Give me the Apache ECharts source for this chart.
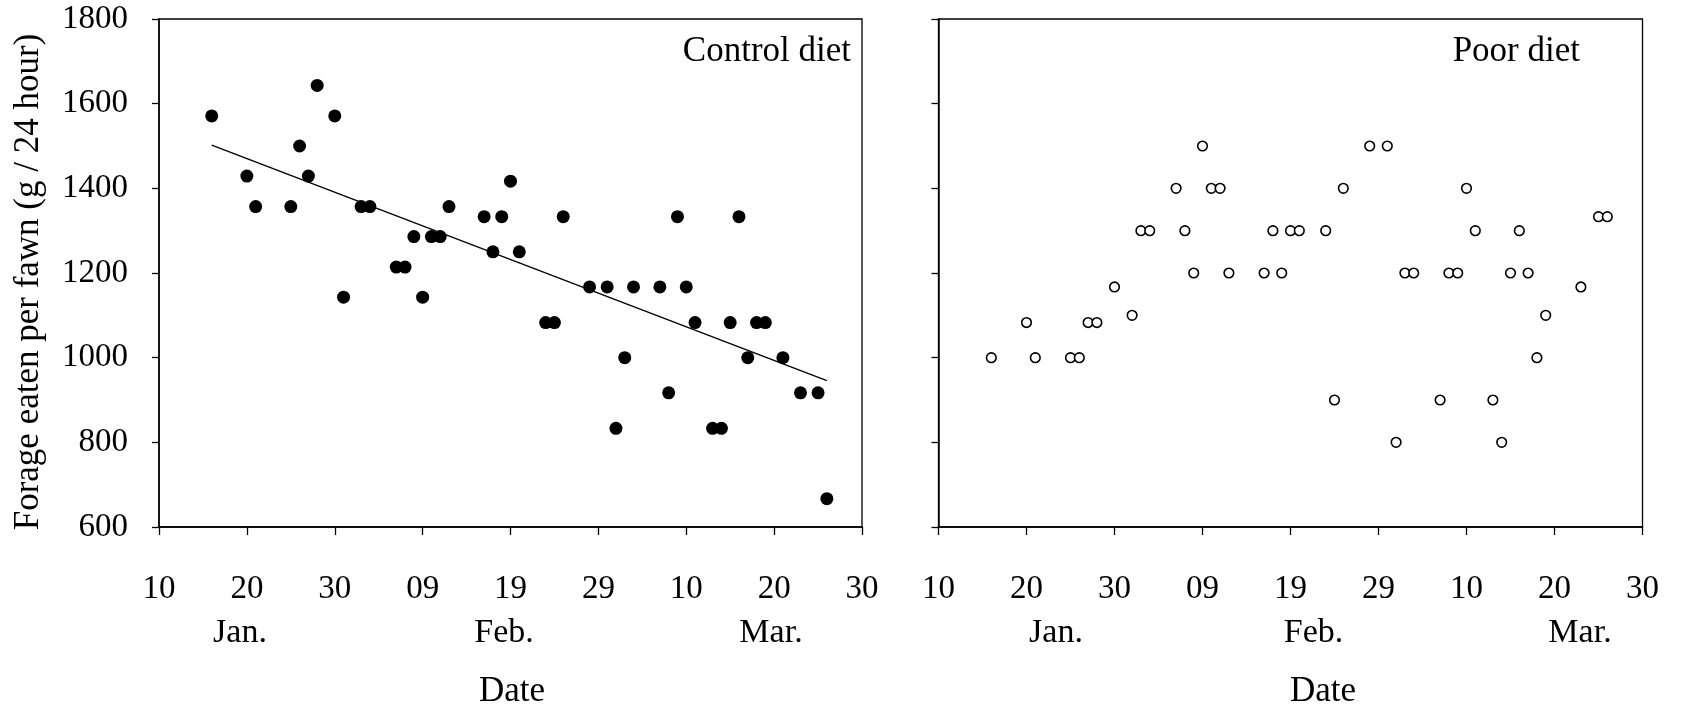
<!DOCTYPE html>
<html>
<head>
<meta charset="utf-8">
<script src="https://cdn.jsdelivr.net/npm/echarts/dist/echarts.min.js"></script>
<style>
html,body{margin:0;padding:0;background:#fff;}
#chart{width:1684px;height:710px;}
</style>
</head>
<body>
<div id="chart"></div>
<script>
// Days counted from 10 Jan (day 0) to 30 Mar (day 80)
const xTickLabels = ['10','20','30','09','19','29','10','20','30'];
const monthLabels = ['Jan.','Feb.','Mar.'];
const panelTitles = ['Control diet','Poor diet'];
const xAxisTitle = 'Date';
const yAxisTitle = 'Forage eaten per fawn (g / 24 hour)';

const controlDays = [6,10,11,15,16,17,18,20,21,23,24,27,28,29,30,31,32,33,37,38,39,40,41,44,45,46,49,51,52,53,54,57,58,59,60,61,63,64,65,66,67,68,69,71,73,75,76];
const controlValues = [1571,1429,1357,1357,1500,1429,1643,1571,1143,1357,1357,1214,1214,1286,1143,1286,1286,1357,1333,1250,1333,1417,1250,1083,1083,1333,1167,1167,833,1000,1167,1167,917,1333,1167,1083,833,833,1083,1333,1000,1083,1083,1000,917,917,667];

const trendDays = [6,76];
const trendValues = [1502,946];

const poorDays = [6,10,11,15,16,17,18,20,22,23,24,27,28,29,30,31,32,33,37,38,39,40,41,44,45,46,49,51,52,53,54,57,58,59,60,61,63,64,65,66,67,68,69,73,75,76];
const poorValues = [1000,1083,1000,1000,1000,1083,1083,1167,1100,1300,1300,1400,1300,1200,1500,1400,1400,1200,1200,1300,1200,1300,1300,1300,900,1400,1500,1500,800,1200,1200,900,1200,1200,1400,1300,900,800,1200,1300,1200,1000,1100,1167,1333,1333];

const FONT = '"Liberation Serif","Times New Roman",serif';
const zip = (a, b) => a.map((v, i) => [v, b[i]]);

function xAxisCfg(gi) {
  return {
    gridIndex: gi, type: 'value', min: 0, max: 80, interval: 10,
    axisLine: {show: true, onZero: false, lineStyle: {color: '#000', width: 1.5}},
    axisTick: {show: true, inside: false, length: 8, lineStyle: {color: '#000', width: 1.3}},
    axisLabel: {show: true, margin: 46, fontFamily: FONT, fontSize: 33, color: '#000',
      formatter: v => xTickLabels[Math.round(v / 10)]},
    splitLine: {show: false}
  };
}
function yAxisCfg(gi, showLabels) {
  return {
    gridIndex: gi, type: 'value', min: 600, max: 1800, interval: 200,
    axisLine: {show: true, onZero: false, lineStyle: {color: '#000', width: 1.5}},
    axisTick: {show: true, inside: false, length: 7, lineStyle: {color: '#000', width: 1.3}},
    axisLabel: {show: showLabels, margin: 31, fontFamily: FONT, fontSize: 33, color: '#000',
      formatter: v => String(v)},
    splitLine: {show: false}
  };
}
function txt(x, y, text, size, align, rot) {
  return {type: 'text', x: x, y: y, rotation: rot || 0,
    style: {text: text, fontFamily: FONT, fontSize: size, fill: '#000',
      align: align || 'center', verticalAlign: 'middle'}};
}

const chart = echarts.init(document.getElementById('chart'), null, {renderer: 'canvas'});
chart.setOption({
  backgroundColor: '#fff',
  animation: false,
  grid: [
    {left: 159, top: 19, width: 703, height: 508, show: true, borderColor: '#000', borderWidth: 1.3, backgroundColor: 'transparent'},
    {left: 938.5, top: 19, width: 704, height: 508, show: true, borderColor: '#000', borderWidth: 1.3, backgroundColor: 'transparent'}
  ],
  xAxis: [xAxisCfg(0), xAxisCfg(1)],
  yAxis: [yAxisCfg(0, true), yAxisCfg(1, false)],
  series: [
    {type: 'line', xAxisIndex: 0, yAxisIndex: 0, data: zip(trendDays, trendValues),
      showSymbol: false, symbol: 'none', lineStyle: {color: '#000', width: 1.3}, z: 2},
    {type: 'scatter', xAxisIndex: 0, yAxisIndex: 0, data: zip(controlDays, controlValues),
      symbol: 'circle', symbolSize: 13, itemStyle: {color: '#000', opacity: 1}, z: 3},
    {type: 'scatter', xAxisIndex: 1, yAxisIndex: 1, data: zip(poorDays, poorValues),
      symbol: 'circle', symbolSize: 9.6, itemStyle: {color: '#fff', borderColor: '#000', borderWidth: 1.6, opacity: 1}, z: 3}
  ],
  graphic: [
    txt(851, 52, panelTitles[0], 35, 'right'),
    txt(1580, 52, panelTitles[1], 35, 'right'),
    txt(240, 633, monthLabels[0], 34),
    txt(504, 633, monthLabels[1], 34),
    txt(771, 633, monthLabels[2], 34),
    txt(1056, 633, monthLabels[0], 34),
    txt(1313.5, 633, monthLabels[1], 34),
    txt(1580, 633, monthLabels[2], 34),
    txt(512, 692, xAxisTitle, 35),
    txt(1323, 692, xAxisTitle, 35),
    txt(29, 282, yAxisTitle, 35, 'center', Math.PI / 2)
  ]
});
</script>
</body>
</html>
